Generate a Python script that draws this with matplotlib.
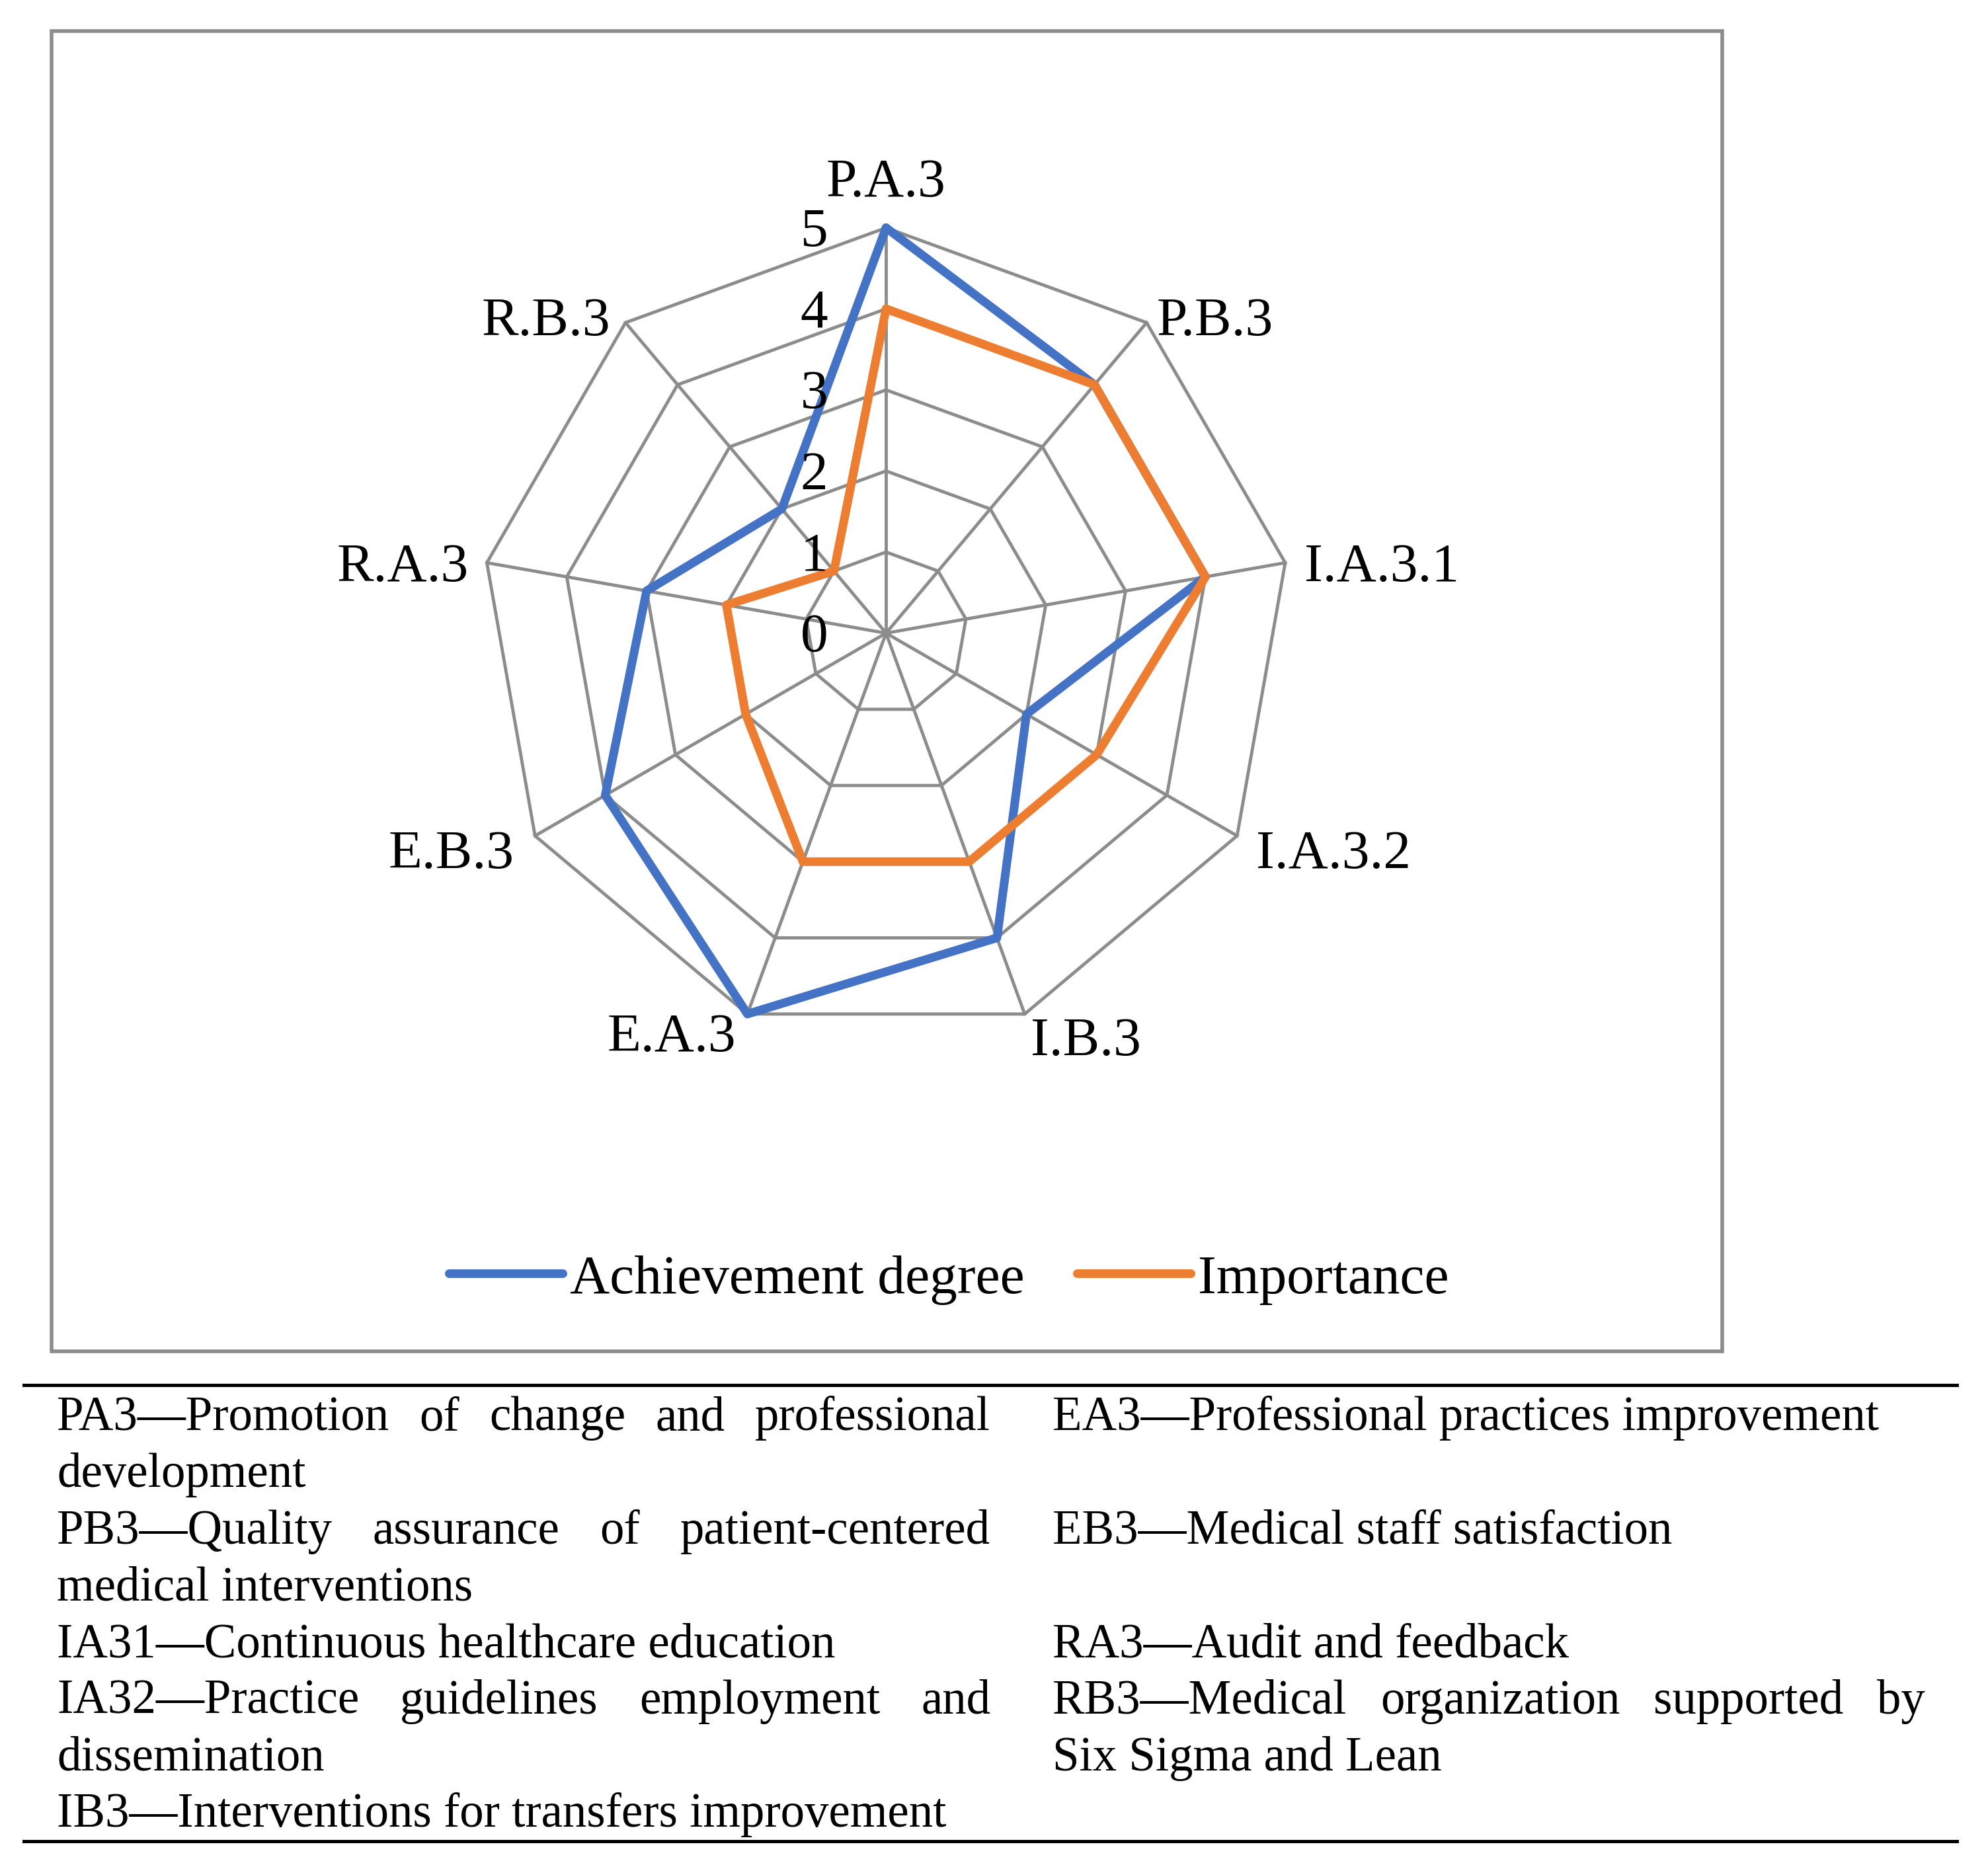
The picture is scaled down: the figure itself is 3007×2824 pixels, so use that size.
import matplotlib
matplotlib.use('Agg')
import matplotlib.pyplot as plt
import numpy as np
from matplotlib.lines import Line2D
from matplotlib.patches import Rectangle

# ---------------- data ----------------
categories = ["P.A.3", "P.B.3", "I.A.3.1", "I.A.3.2", "I.B.3",
              "E.A.3", "E.B.3", "R.A.3", "R.B.3"]
achievement = [5, 4, 4, 2, 4, 5, 4, 3, 2]
importance = [4, 4, 4, 3, 3, 3, 2, 2, 1]
series_names = ["Achievement degree", "Importance"]
r_ticks = [0, 1, 2, 3, 4, 5]

# table rows: (text, justified)
table_left = [
    ("PA3\u2014Promotion of change and professional", True),
    ("development", False),
    ("PB3\u2014Quality assurance of patient-centered", True),
    ("medical interventions", False),
    ("IA31\u2014Continuous healthcare education", False),
    ("IA32\u2014Practice guidelines employment and", True),
    ("dissemination", False),
    ("IB3\u2014Interventions for transfers improvement", False),
]
table_right = [
    ("EA3\u2014Professional practices improvement", False),
    ("", False),
    ("EB3\u2014Medical staff satisfaction", False),
    ("", False),
    ("RA3\u2014Audit and feedback", False),
    ("RB3\u2014Medical organization supported by", True),
    ("Six Sigma and Lean", False),
    ("", False),
]

# ---------------- style ----------------
W, H = 3007, 2824
BLUE = "#4472C4"
ORANGE = "#ED7D31"
GRID = "#8C8C8C"
FONT = "Liberation Serif"

def fx(px):
    return px / W

def fy(py):
    return 1 - py / H

fig = plt.figure(figsize=(30.075, 28.245), dpi=100)
fig.patch.set_facecolor("white")

# chart frame
fig.add_artist(Rectangle((fx(78), fy(2044)), fx(2605) - fx(78), (2044 - 47) / H,
                         transform=fig.transFigure, fill=False, ec=GRID, lw=4))

# radar axes
cx, cy, R = 1340, 958, 613
ax = fig.add_axes([fx(cx - R), fy(cy + R), 2 * R / W, 2 * R / H], projection="polar")
ax.set_theta_zero_location("N")
ax.set_theta_direction(-1)
ax.set_ylim(0, 5)
ax.grid(False)
ax.set_xticks([])
ax.set_yticks([])
ax.spines["polar"].set_visible(False)
ax.patch.set_alpha(0)

N = len(categories)
angles = np.linspace(0, 2 * np.pi, N, endpoint=False)
closed_angles = np.append(angles, angles[0])

for r in r_ticks[1:]:
    ax.plot(closed_angles, [r] * (N + 1), color=GRID, lw=3.5, zorder=1, clip_on=False)
for a in angles:
    ax.plot([a, a], [0, r_ticks[-1]], color=GRID, lw=3.5, zorder=1, clip_on=False)

l1, = ax.plot(closed_angles, achievement + achievement[:1], color=BLUE, lw=9.4,
              solid_joinstyle="round", solid_capstyle="round", zorder=3, clip_on=False)
l2, = ax.plot(closed_angles, importance + importance[:1], color=ORANGE, lw=9.4,
              solid_joinstyle="round", solid_capstyle="round", zorder=4, clip_on=False)

# category labels (offsets in pixels from the outer vertex)
label_layout = [
    ((0, 48), "center"),
    ((15, -18), "left"),
    ((29, -27), "left"),
    ((29, -48), "left"),
    ((9, -62), "left"),
    ((-17, -56), "right"),
    ((-32, -48), "right"),
    ((-28, -27), "right"),
    ((-23, -18), "right"),
]
for cat, a, (off, ha) in zip(categories, angles, label_layout):
    ax.annotate(cat, xy=(a, r_ticks[-1]), xytext=off, textcoords="offset pixels",
                ha=ha, va="baseline", fontsize=60, fontfamily=FONT,
                annotation_clip=False, zorder=5)

# radial tick labels
for t in r_ticks:
    ax.annotate(str(t), xy=(0, t), xytext=(-88, -27), textcoords="offset pixels",
                ha="right", va="baseline", fontsize=60, fontfamily=FONT,
                annotation_clip=False, zorder=5)

# legend
fig.legend(handles=[l1, l2], labels=series_names, loc="center",
           bbox_to_anchor=(fx(1435), fy(1935)), ncol=2, frameon=False,
           prop={"family": FONT, "size": 60}, handlelength=2.06,
           handletextpad=0.13, columnspacing=0.96)

# table rules
for yy in (2095, 2785):
    fig.add_artist(Line2D([fx(36), fx(2960)], [fy(yy), fy(yy)], color="black",
                          lw=3.6, transform=fig.transFigure))

# table text
renderer = fig.canvas.get_renderer()
tprops = dict(fontsize=52.5, fontfamily=FONT, ha="left", va="baseline", color="black")

def put_line(text, x0, x1, y, justify):
    if not text:
        return
    if not justify:
        fig.text(fx(x0), fy(y), text, **tprops)
        return
    words = text.split(" ")
    objs = [fig.text(fx(x0), fy(y), w, **tprops) for w in words]
    widths = [o.get_window_extent(renderer).width for o in objs]
    gap = (x1 - x0 - sum(widths)) / (len(words) - 1)
    x = x0
    for o, w in zip(objs, widths):
        o.set_x(fx(x))
        x += w + gap

row_y0, row_dy = 2163, 85.7
for i, ((lt, lj), (rt, rj)) in enumerate(zip(table_left, table_right)):
    y = row_y0 + i * row_dy
    put_line(lt, 86, 1498, y, lj)
    put_line(rt, 1592, 2911, y, rj)

fig.savefig("out.png", dpi=100)
